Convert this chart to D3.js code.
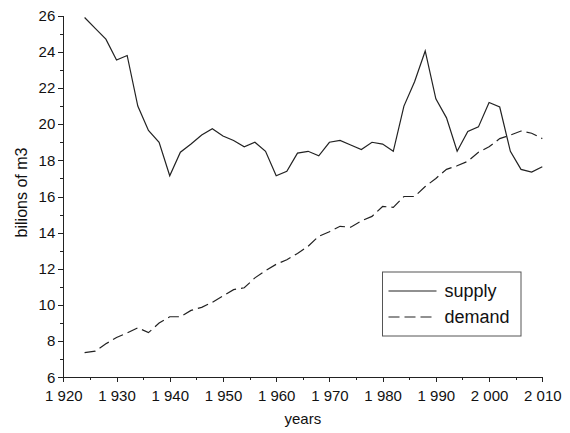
<!DOCTYPE html>
<html>
<head>
<meta charset="utf-8">
<script src="https://cdn.jsdelivr.net/npm/d3@7"></script>
<style>
    body { margin: 0; background: #fff; }
    svg text { font-family: "Liberation Sans", Arial, Helvetica, sans-serif; fill: #111; }
    .axis path, .axis line { stroke: #222; shape-rendering: crispEdges; }
</style>
</head>
<body>
<div id="chart"></div>
<script>
// data, one point every two years
const years = [
    1924, 1926, 1928, 1930, 1932, 1934, 1936, 1938, 1940, 1942, 1944,
    1946, 1948, 1950, 1952, 1954, 1956, 1958, 1960, 1962, 1964, 1966,
    1968, 1970, 1972, 1974, 1976, 1978, 1980, 1982, 1984, 1986, 1988,
    1990, 1992, 1994, 1996, 1998, 2000, 2002, 2004, 2006, 2008, 2010
];

const supply = [
    25.9, 25.3, 24.7, 23.55, 23.8, 21.0, 19.65, 19.0, 17.15, 18.45, 18.9,
    19.4, 19.75, 19.35, 19.1, 18.75, 19.0, 18.5, 17.15, 17.4, 18.4, 18.5,
    18.25, 19.0, 19.1, 18.85, 18.6, 19.0, 18.9, 18.5, 21.0, 22.35, 24.05,
    21.4, 20.35, 18.5, 19.6, 19.85, 21.2, 20.95, 18.5, 17.5, 17.35, 17.65
];

const demand = [
    7.36, 7.45, 7.85, 8.2, 8.45, 8.74, 8.47, 9.0, 9.35, 9.35, 9.7,
    9.87, 10.15, 10.5, 10.85, 10.95, 11.5, 11.9, 12.25, 12.5, 12.85, 13.25,
    13.8, 14.05, 14.35, 14.3, 14.65, 14.9, 15.45, 15.4, 16.0, 16.0, 16.55,
    17.0, 17.5, 17.7, 17.95, 18.45, 18.75, 19.2, 19.4, 19.62, 19.5, 19.2
];

const xMajorTicks = [1920, 1930, 1940, 1950, 1960, 1970, 1980, 1990, 2000, 2010];
const xMinorTicks = [1925, 1935, 1945, 1955, 1965, 1975, 1985, 1995, 2005];
const yMajorTicks = [6, 8, 10, 12, 14, 16, 18, 20, 22, 24, 26];
const yMinorTicks = [7, 9, 11, 13, 15, 17, 19, 21, 23, 25];

const seriesNames = ["supply", "demand"];

const width = 570;
const height = 433;
const margin = { top: 15.7, right: 27.7, bottom: 55.7, left: 63.3 };
const chartWidth = width - margin.left - margin.right;
const chartHeight = height - margin.top - margin.bottom;

// "1 920" style numbers with a space as thousands separator
function formatYear(d) {
    return String(d).replace(/(\d)(\d{3})$/, "$1 $2");
}

const svg = d3.select("#chart").append("svg")
    .attr("width", width)
    .attr("height", height);

const chartGroup = svg.append("g")
    .attr("transform", `translate(${margin.left}, ${margin.top})`);

const xScale = d3.scaleLinear()
    .domain([1920, 2010])
    .range([0, chartWidth]);

const yScale = d3.scaleLinear()
    .domain([6, 26])
    .range([chartHeight, 0]);

// minor ticks first, then the labelled axes on top
chartGroup.append("g")
    .attr("class", "axis")
    .attr("transform", `translate(0, ${chartHeight})`)
    .call(d3.axisBottom(xScale).tickValues(xMinorTicks).tickSize(3).tickFormat(""))
    .call(g => g.select(".domain").remove());

chartGroup.append("g")
    .attr("class", "axis")
    .call(d3.axisLeft(yScale).tickValues(yMinorTicks).tickSize(3).tickFormat(""))
    .call(g => g.select(".domain").remove());

const xAxis = chartGroup.append("g")
    .attr("class", "axis")
    .attr("transform", `translate(0, ${chartHeight})`)
    .call(d3.axisBottom(xScale)
        .tickValues(xMajorTicks)
        .tickSize(5)
        .tickSizeOuter(0)
        .tickPadding(8)
        .tickFormat(formatYear));

xAxis.selectAll("text")
    .style("font-size", "15px")
    .attr("dy", "0.71em");

const yAxis = chartGroup.append("g")
    .attr("class", "axis")
    .call(d3.axisLeft(yScale)
        .tickValues(yMajorTicks)
        .tickSize(5)
        .tickSizeOuter(0)
        .tickPadding(3));

yAxis.selectAll("text")
    .style("font-size", "15px");

// axis titles
chartGroup.append("text")
    .attr("x", chartWidth / 2)
    .attr("y", chartHeight + 47)
    .attr("text-anchor", "middle")
    .style("font-size", "15px")
    .text("years");

chartGroup.append("text")
    .attr("transform", "rotate(-90)")
    .attr("x", -(chartHeight / 2) + 4)
    .attr("y", 26.5 - margin.left)
    .attr("text-anchor", "middle")
    .style("font-size", "16px")
    .text("bilions of m3");

// lines
const line = values => d3.line()
    .x((d, i) => xScale(years[i]))
    .y(d => yScale(d))(values);

chartGroup.append("path")
    .attr("d", line(supply))
    .attr("fill", "none")
    .attr("stroke", "#222")
    .attr("stroke-width", 1.2);

chartGroup.append("path")
    .attr("d", line(demand))
    .attr("fill", "none")
    .attr("stroke", "#222")
    .attr("stroke-width", 1.2)
    .attr("stroke-dasharray", "11,5");

// legend
const legend = svg.append("g")
    .attr("transform", "translate(382.5, 272)");

legend.append("rect")
    .attr("width", 138.5)
    .attr("height", 64)
    .attr("fill", "#fff")
    .attr("stroke", "#555")
    .attr("stroke-width", 1);

seriesNames.forEach((name, index) => {
    const y = 19 + index * 26;
    legend.append("line")
        .attr("x1", 6)
        .attr("x2", 54)
        .attr("y1", y)
        .attr("y2", y)
        .attr("stroke", "#222")
        .attr("stroke-width", 1.2)
        .attr("stroke-dasharray", index === 1 ? "11,5" : null);

    legend.append("text")
        .attr("x", 62)
        .attr("y", y + 6)
        .style("font-size", "18px")
        .text(name);
});
</script>
</body>
</html>
